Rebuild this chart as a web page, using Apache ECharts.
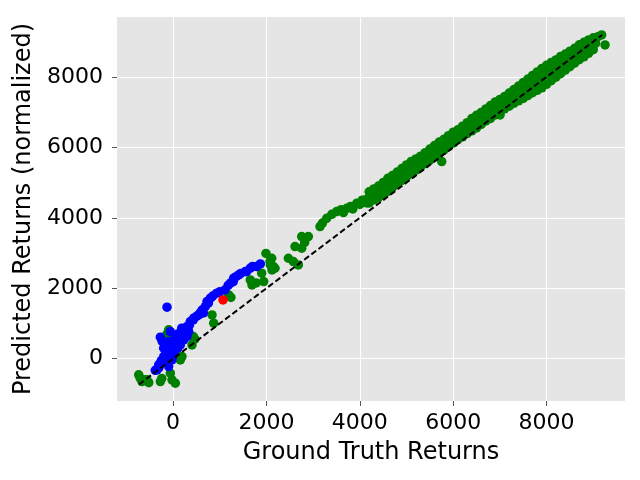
<!DOCTYPE html>
<html>
<head>
<meta charset="utf-8">
<script src="https://cdn.jsdelivr.net/npm/echarts@6.0.0/dist/echarts.min.js"></script>
<style>html,body{margin:0;padding:0;background:#fff;}#chart{width:640px;height:480px;}</style>
</head>
<body>
<div id="chart"></div>
<script>
// Ground truth vs predicted returns
const greenPoints = [
[-735,-458],[-700,-560],[-665,-648],[-620,-600],[-557,-600],[-520,-680],[-272,-648],[-240,-560],[-22,-600],[50,-694],[-58,-410],
[-93,819],[-130,700],[156,-33],[192,61],[406,393],[434,629],[470,560],[835,1244],[871,1009],[1192,1812],[1240,1740],
[1655,2238],[1691,2096],[1780,2150],[1899,2427],[1942,2190],[1990,2990],[2077,2757],[2085,2663],[2114,2852],[2120,2521],
[2149,2615],[2184,2568],[2470,2852],[2577,2757],[2613,3183],[2684,2663],[2756,3136],[2756,3467],[2820,3300],[2898,3467],
[3148,3750],[3200,3850],[3291,3986],[3400,4100],[3505,4176],[3600,4230],[3650,4150],[3720,4270],[3800,4320],[3850,4250],
[3934,4412],[4000,4380],[4050,4500],[4112,4508],[4150,4420],
[4200,4740],[4200,4420],[4250,4600],[4300,4820],[4300,4510],[4400,4900],[4400,4570],[4450,4780],[4500,5000],[4500,4660],
[4600,5120],[4600,4750],[4650,4950],[4700,5200],[4700,4860],[4800,5300],[4800,4960],[4850,5180],[4900,5400],[4900,5060],
[5000,5500],[5000,5160],[5050,5350],[5100,5600],[5100,5250],[5200,5670],[5200,5350],[5250,5550],[5300,5750],[5300,5440],
[5400,5850],[5400,5540],[5450,5750],[5500,5950],[5500,5640],[5600,6050],[5600,5740],[5650,5920],[5700,6150],[5700,5820],
[5755,5596],[5800,6230],[5800,5920],[5850,6100],[5900,6330],[5900,6020],[6000,6430],[6000,6120],[6050,6300],[6100,6500],
[6100,6220],[6200,6600],[6200,6300],[6250,6500],[6300,6700],[6300,6390],[6400,6820],[6400,6470],[6450,6700],[6500,6910],
[6500,6550],[6600,6990],[6600,6650],[6650,6870],[6700,7090],[6700,6750],[6800,7190],[6800,6820],[6850,7050],[6900,7290],
[6900,6920],[7004,6921],[7000,7360],[7000,7020],[7050,7200],[7100,7440],[7100,7090],[7200,7540],[7200,7170],[7250,7400],
[7300,7640],[7300,7250],[7400,7740],[7400,7320],[7450,7550],[7500,7840],[7500,7390],[7600,7940],[7600,7470],[7650,7750],
[7700,8040],[7700,7550],[7800,8140],[7800,7620],[7850,7950],[7900,8240],[7900,7690],[8000,8330],[8000,7790],[8050,8080],
[8100,8410],[8100,7890],[8200,8480],[8200,7990],[8250,8250],[8300,8580],[8300,8090],[8400,8650],[8400,8190],[8450,8450],
[8500,8730],[8500,8290],[8600,8810],[8600,8390],[8650,8600],[8700,8910],[8700,8490],[8800,8980],[8800,8570],[8850,8800],
[8900,9050],[8900,8670],[9000,9110],[9000,8770],[9050,8950],[9100,9140],[9180,9190],[9253,8907],
[4200,4580],[4300,4660],[4400,4730],[4500,4830],[4600,4930],[4700,5030],[4800,5130],[4900,5230],[5000,5330],[5100,5420],
[5200,5510],[5300,5600],[5400,5690],[5500,5790],[5600,5890],[5700,5980],[5800,6070],[5900,6170],[6000,6270],[6100,6360],
[6200,6450],[6300,6540],[6400,6640],[6500,6730],[6600,6820],[6700,6920],[6800,7000],[6900,7100],[7000,7190],[7100,7260],
[7200,7350],[7300,7440],[7400,7530],[7500,7610],[7600,7700],[7700,7790],[7800,7880],[7900,7960],[8000,8060],[8100,8150],
[8200,8230],[8300,8330],[8400,8420],[8500,8510],[8600,8600],[8700,8700],[8800,8770],[8900,8860],[9000,8940]
];
const bluePoints = [
[-129,1463],[-272,612],[-58,771],[-380,-330],[-343,-316],[-307,-174],[-272,-129],[-200,61],[-168,-32],[-93,-222],[-22,-32],
[-200,300],[-236,500],[-129,393],[-93,487],[-58,157],[14,441],[49,251],[85,535],[156,393],[156,677],[186,867],[228,535],
[228,819],[299,629],[299,913],[335,771],[370,1055],[434,1103],[442,1150],[549,1244],[577,1293],[691,1480],[728,1622],
[756,1577],[799,1718],[934,1860],[1113,1955],[1227,2144],[1291,2190],[1299,2286],[1406,2380],[1548,2474],[1577,2474],
[1655,2569],[1792,2615],[1870,2692],
[100,700],[250,700],[350,950],[500,1200],[620,1380],[650,1300],[850,1780],[1000,1900],[1180,2080],[1350,2330],[1450,2420],
[1700,2620],[-150,200],[-50,300],[50,600],[120,500],[-250,-50],[-300,-250],[0,100],[100,300]
];
const redPoints = [[1071,1670]];
const diagonal = [[-730,-730],[9190,9190]];
const tickValues = [0, 2000, 4000, 6000, 8000];

const xName = 'Ground Truth Returns';
const yName = 'Predicted Returns (normalized)';
const font = 'DejaVu Sans';

const chart = echarts.init(document.getElementById('chart'), null, {renderer:'canvas'});
function axis(name, min, max, margin, gap) {
  return {
    type:'value', min:min, max:max, splitNumber:5,
    name:name, nameLocation:'middle', nameGap:gap,
    nameTextStyle:{fontSize:24, color:'#000', fontFamily:font},
    axisLine:{show:false, onZero:false},
    axisTick:{show:true, length:5, lineStyle:{color:'#555', width:1}, customValues:tickValues},
    axisLabel:{fontSize:22, color:'#000', fontFamily:font, margin:margin, customValues:tickValues,
               formatter:function(v){return String(v);}},
    splitLine:{show:true, lineStyle:{color:'#fff', width:1}}
  };
}
const sym = 9.5;
chart.setOption({
  animation:false,
  backgroundColor:'#fff',
  grid:{left:117, right:15, top:17, bottom:79, show:true, backgroundColor:'#E5E5E5', borderWidth:0},
  xAxis: axis(xName, -1200, 9680, 11, 40),
  yAxis: axis(yName, -1200, 9700, 14, 74),
  series:[
    {type:'scatter', data:greenPoints, symbolSize:sym, itemStyle:{color:'#008000', opacity:1}, silent:true},
    {type:'scatter', data:bluePoints, symbolSize:sym, itemStyle:{color:'#0000FF', opacity:1}, silent:true},
    {type:'scatter', data:redPoints, symbolSize:sym, itemStyle:{color:'#FF0000', opacity:1}, silent:true},
    {type:'line', data:diagonal, symbol:'none', silent:true, lineStyle:{color:'#000', width:2, type:[6,3]}}
  ]
});
</script>
</body>
</html>
